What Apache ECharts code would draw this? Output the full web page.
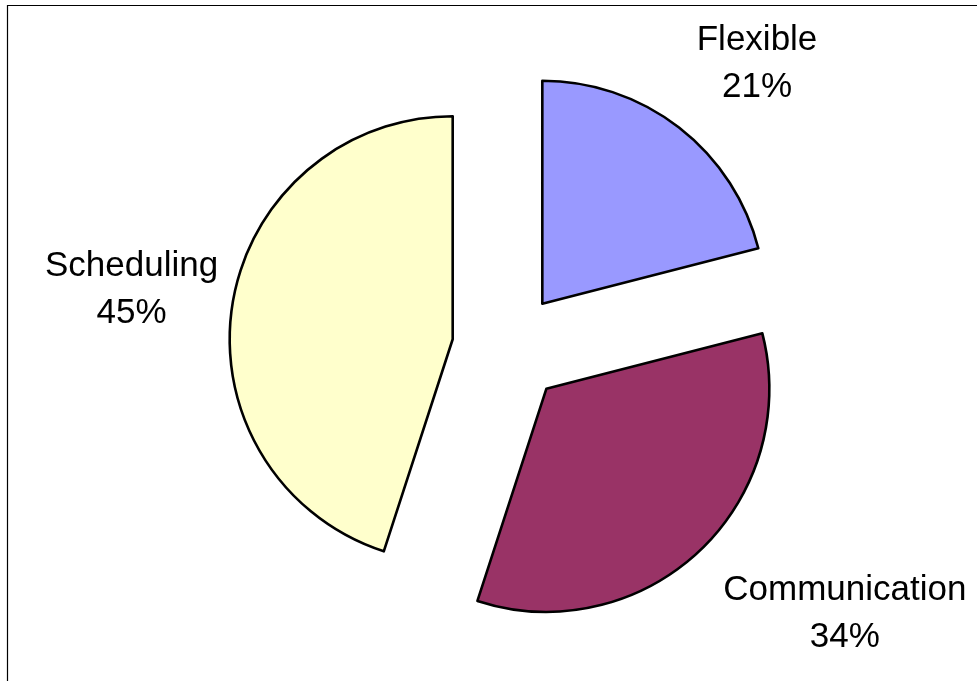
<!DOCTYPE html>
<html>
<head>
<meta charset="utf-8">
<script src="https://cdn.jsdelivr.net/npm/echarts@6/dist/echarts.min.js"></script>
<style>
html,body{margin:0;padding:0;background:#fff;}
#main{width:977px;height:681px;}
</style>
</head>
<body>
<div id="main"></div>
<script>
// data
var categories = ['Flexible', 'Communication', 'Scheduling'];
var shares = [21, 34, 45];
var colors = ['#9999FF', '#993366', '#FFFFCC'];
// label line length / length2 for each slice (lines hidden, only used to place the text)
var labelLen = [80, 86, 90];
var labelLen2 = [24, 82, 7];

var items = [];
for (var i = 0; i < categories.length; i++) {
	items.push({
		name: categories[i],
		value: shares[i],
		selected: true,
		itemStyle: {color: colors[i]},
		labelLine: {show: false, length: labelLen[i], length2: labelLen2[i]}
	});
}

var myChart = echarts.init(document.getElementById('main'), null, {renderer: 'canvas'});
var option = {
	backgroundColor: '#fff',
	animation: false,
	graphic: [{
		type: 'rect',
		shape: {x: 7.5, y: 5.5, width: 1000, height: 700},
		style: {fill: 'none', stroke: '#000', lineWidth: 1.2},
		silent: true
	}],
	series: [{
		type: 'pie',
		center: [508, 348],
		radius: 223,
		startAngle: 90,
		clockwise: true,
		selectedMode: 'multiple',
		selectedOffset: 56,
		avoidLabelOverlap: false,
		itemStyle: {borderColor: '#000', borderWidth: 2.6},
		select: {itemStyle: {borderColor: '#000', borderWidth: 2.6}},
		label: {
			show: true,
			position: 'outside',
			formatter: '{b}\n{c}%',
			fontFamily: 'Liberation Sans, Arial, sans-serif',
			fontSize: 35,
			lineHeight: 47,
			color: '#000'
		},
		labelLayout: {align: 'center'},
		emphasis: {disabled: true},
		data: items
	}]
};
myChart.setOption(option);
</script>
</body>
</html>
